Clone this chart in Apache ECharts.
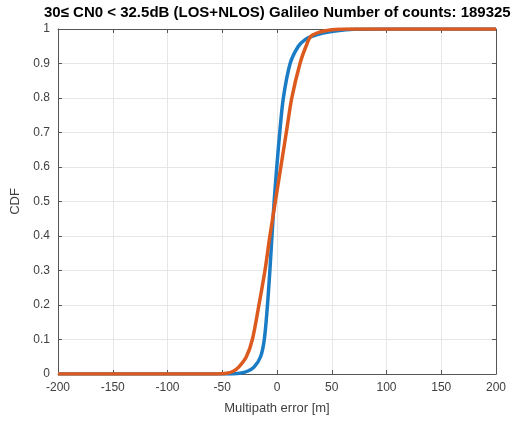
<!DOCTYPE html>
<html>
<head>
<meta charset="utf-8">
<script src="https://cdn.jsdelivr.net/npm/echarts@6/dist/echarts.min.js"></script>
<style>html,body{margin:0;padding:0;background:#fff;}#c{width:516px;height:421px;}</style>
</head>
<body>
<div id="c"></div>
<script>
var titleText = '30\u2264 CN0 < 32.5dB (LOS+NLOS) Galileo Number of counts: 189325';
var xAxisName = 'Multipath error [m]';
var yAxisName = 'CDF';
var xTicks = [-200, -150, -100, -50, 0, 50, 100, 150, 200];
var yTicks = [0, 0.1, 0.2, 0.3, 0.4, 0.5, 0.6, 0.7, 0.8, 0.9, 1];

var blueX = [-200, -42, -34, -27, -21, -15, -11.6, -8.7, -6.5, -4.6, -2.6, -0.2, 2.5, 5.8, 12, 19.5, 26, 32, 42, 55, 70, 100, 200];
var blueY = [0, 0, 0.002, 0.008, 0.02, 0.05, 0.1, 0.2, 0.3, 0.4, 0.5, 0.6, 0.7, 0.8, 0.9, 0.95, 0.97, 0.979, 0.988, 0.995, 0.999, 1, 1];

var orangeX = [-200, -55, -46, -40, -35, -28, -22.5, -16.5, -11, -6.5, -1.5, 3.5, 8.5, 13.5, 21, 26.5, 31, 40, 50, 62, 200];
var orangeY = [0, 0, 0.002, 0.008, 0.02, 0.05, 0.1, 0.2, 0.3, 0.4, 0.5, 0.6, 0.7, 0.8, 0.9, 0.95, 0.979, 0.992, 0.998, 1, 1];

function pairs(xs, ys) { return xs.map(function (x, i) { return [x, ys[i]]; }); }

var font = 'Liberation Sans, Arial, Helvetica, sans-serif';
var tickColor = '#404040';
var chart = echarts.init(document.getElementById('c'), null, {renderer: 'canvas'});
var xmin = xTicks[0], xmax = xTicks[xTicks.length - 1];
var ymin = yTicks[0], ymax = yTicks[yTicks.length - 1];
chart.setOption({
  animation: false,
  backgroundColor: '#ffffff',
  title: {
    text: titleText, left: 44, top: 5, padding: 0,
    textStyle: {fontFamily: font, fontSize: 15, fontWeight: 'bold', color: '#000'}
  },
  grid: {left: 58, right: 20, top: 29, bottom: 47, show: false},
  xAxis: [{
    type: 'value', min: xmin, max: xmax, interval: xTicks[1] - xTicks[0],
    name: xAxisName, nameLocation: 'middle', nameGap: 28,
    nameTextStyle: {fontFamily: font, fontSize: 13, color: tickColor},
    axisLine: {show: true, onZero: false, lineStyle: {color: '#555', width: 1}},
    axisTick: {show: true, inside: true, length: 4, lineStyle: {color: '#555'}},
    axisLabel: {fontFamily: font, fontSize: 12, color: tickColor, margin: 8},
    splitLine: {show: true, lineStyle: {color: '#e6e6e6', width: 1}}
  }, {
    type: 'value', position: 'top', min: xmin, max: xmax, interval: xTicks[1] - xTicks[0],
    axisLine: {show: true, onZero: false, lineStyle: {color: '#555', width: 1}},
    axisTick: {show: true, inside: true, length: 4, lineStyle: {color: '#555'}},
    axisLabel: {show: false}, splitLine: {show: false}
  }],
  yAxis: [{
    type: 'value', min: ymin, max: ymax, interval: 0.1,
    name: yAxisName, nameLocation: 'middle', nameGap: 28,
    nameTextStyle: {fontFamily: font, fontSize: 13, color: tickColor},
    axisLine: {show: true, onZero: false, lineStyle: {color: '#555', width: 1}},
    axisTick: {show: true, inside: true, length: 4, lineStyle: {color: '#555'}},
    axisLabel: {fontFamily: font, fontSize: 12, color: tickColor, margin: 8,
      formatter: function (v) { return String(Math.round(v * 10) / 10); }},
    splitLine: {show: true, lineStyle: {color: '#e6e6e6', width: 1}}
  }, {
    type: 'value', position: 'right', min: ymin, max: ymax, interval: 0.1,
    axisLine: {show: true, onZero: false, lineStyle: {color: '#555', width: 1}},
    axisTick: {show: true, inside: true, length: 4, lineStyle: {color: '#555'}},
    axisLabel: {show: false}, splitLine: {show: false}
  }],
  series: [{
    type: 'line', data: pairs(blueX, blueY), showSymbol: false,
    smooth: 0.3, clip: true,
    lineStyle: {color: '#1a7cc4', width: 3.5}
  }, {
    type: 'line', data: pairs(orangeX, orangeY), showSymbol: false,
    smooth: 0.3, clip: true,
    lineStyle: {color: '#dd5a1e', width: 3.5}
  }]
});
</script>
</body>
</html>
